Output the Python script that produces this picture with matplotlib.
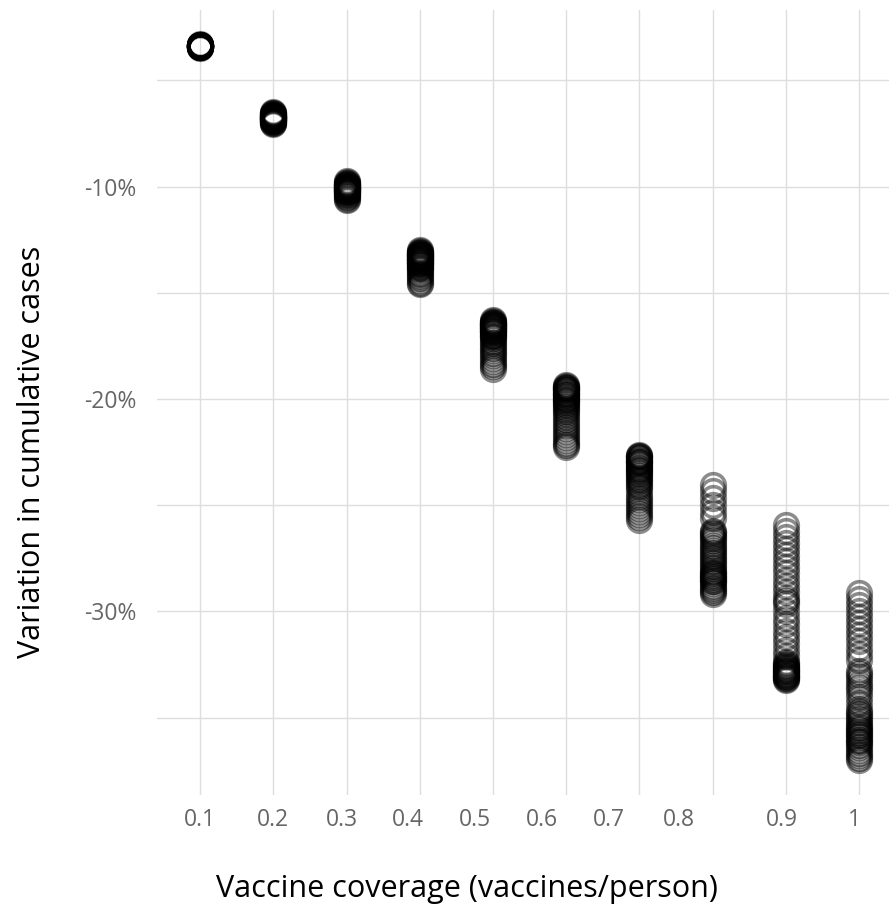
import matplotlib
matplotlib.use("Agg")
import matplotlib.pyplot as plt
import matplotlib.transforms as mtransforms
from matplotlib.ticker import FixedLocator, FuncFormatter

# Vaccine coverage levels (vaccines/person)
coverage_labels = ["0.1", "0.2", "0.3", "0.4", "0.5", "0.6", "0.7", "0.8", "0.9", "1"]

# Simulated variation in cumulative cases (%) for each coverage level
var_01 = [-3.31, -3.33, -3.34, -3.35, -3.36, -3.36, -3.37, -3.38, -3.38, -3.39,
          -3.40, -3.40, -3.41, -3.42, -3.43, -3.44, -3.45, -3.46, -3.38, -3.37,
          -3.35, -3.39, -3.41, -3.36, -3.42, -3.40, -3.34, -3.43, -3.39, -3.38]
var_02 = [-6.50, -6.53, -6.56, -6.60, -6.62, -6.65, -6.68, -6.70, -6.72, -6.74,
          -6.76, -6.78, -6.80, -6.82, -6.84, -6.86, -6.88, -6.90, -6.93, -6.96,
          -6.99, -7.02, -7.05, -6.71, -6.79, -6.66, -6.83, -6.91, -6.58, -6.75]
var_03 = [-9.75, -9.79, -9.84, -9.88, -9.92, -9.95, -9.98, -10.01, -10.04, -10.07,
          -10.10, -10.13, -10.16, -10.19, -10.22, -10.25, -10.28, -10.31, -10.35, -10.39,
          -10.44, -10.50, -10.57, -10.63, -10.02, -10.11, -9.90, -10.20, -10.08, -9.96]
var_04 = [-13.01, -13.05, -13.09, -13.12, -13.15, -13.18, -13.21, -13.24, -13.27, -13.30,
          -13.33, -13.36, -13.39, -13.42, -13.45, -13.48, -13.51, -13.55, -13.58, -13.62,
          -13.66, -13.70, -13.74, -13.78, -13.83, -13.88, -13.25, -13.40, -13.19, -13.60,
          -13.95, -14.05, -14.14, -14.22, -14.31, -14.42, -14.52, -14.60]
var_05 = [-16.29, -16.33, -16.37, -16.41, -16.45, -16.48, -16.52, -16.56, -16.60, -16.63,
          -16.67, -16.71, -16.75, -16.79, -16.83, -16.87, -16.92, -16.97, -17.02, -17.08,
          -17.15, -16.50, -16.65, -16.40, -16.80,
          -17.25, -17.36, -17.48, -17.60, -17.71, -17.82, -17.95, -18.08, -18.20, -18.33,
          -18.46, -18.58]
var_06 = [-19.35, -19.40, -19.45, -19.50, -19.55, -19.60, -19.66, -19.71, -19.77, -19.83,
          -19.89, -19.95, -20.01, -20.08, -20.15, -20.22, -20.30, -20.38, -20.46, -20.55,
          -20.65, -19.58, -19.80, -20.05, -19.47,
          -20.80, -20.94, -21.08, -21.22, -21.37, -21.50, -21.64, -21.78, -21.92, -22.05,
          -22.16, -22.25]
var_07 = [-22.62, -22.67, -22.73, -22.79, -22.85, -22.91, -22.97, -23.03, -23.10, -23.17,
          -23.24, -23.31, -23.38, -23.46, -23.54, -23.62, -23.70, -23.79, -23.88, -23.98,
          -24.08, -24.20, -22.70, -22.95, -23.35,
          -24.40, -24.55, -24.70, -24.85, -25.00, -25.15, -25.29, -25.42, -25.55, -25.68]
var_08 = [-24.05, -24.35, -24.68, -24.98, -25.30, -25.62,
          -26.20, -26.28, -26.36, -26.45, -26.55, -26.66, -26.78, -26.90, -27.02, -27.14,
          -27.26, -27.38, -27.50, -27.62, -27.74, -27.86, -27.97, -28.08, -28.18, -28.28,
          -28.38, -28.48, -28.58, -28.68, -28.78, -28.88, -28.98, -29.08, -29.16, -28.40,
          -28.55, -28.20]
var_09 = [-25.93, -26.20, -26.48, -26.77, -27.05, -27.34, -27.62, -27.90, -28.20, -28.50,
          -28.80, -29.10,
          -29.38, -29.50, -29.64,
          -30.00, -30.30, -30.60, -30.90, -31.20, -31.50, -31.80, -32.10,
          -32.40, -32.45, -32.50, -32.55, -32.60, -32.65, -32.70, -32.74, -32.78, -32.82,
          -32.86, -32.90, -32.94, -32.98, -33.02, -33.06, -33.10, -33.14, -33.18, -33.21]
var_10 = [-29.13, -29.40, -29.68, -29.97, -30.25, -30.54, -30.83, -31.12, -31.40, -31.70,
          -32.00, -32.30,
          -32.80, -32.95, -33.10, -33.28, -33.45, -33.62, -33.80, -34.05, -34.30,
          -34.60, -34.72, -34.84, -34.96, -35.08, -35.20, -35.32, -35.44, -35.56, -35.68,
          -35.80, -35.92, -36.04, -36.16, -36.28, -36.40, -36.52, -36.64, -36.76, -36.88,
          -36.97, -35.50, -35.75, -36.10]

series = [var_01, var_02, var_03, var_04, var_05, var_06, var_07, var_08, var_09, var_10]

# Horizontal nudge (px) applied to each x tick label
label_nudge_px = [0, 0, -5, -12, -18, -24, -31, -34, -4, -5]

fig = plt.figure(figsize=(8.91, 9.06), dpi=100)
ax = fig.add_axes([157 / 891, 1 - 795 / 906, 732 / 891, 785 / 906])

for i, vals in enumerate(series):
    ax.plot([i] * len(vals), vals, linestyle="none", marker="o",
            markersize=17.0, markerfacecolor="none", markeredgecolor="black",
            markeredgewidth=2.6, alpha=0.45, zorder=3)

ax.set_xlim(-0.59, 9.41)
ax.set_ylim(-38.64, -1.69)

grid_color = "#dedede"
ax.set_xticks(range(len(coverage_labels)))
ax.set_xticklabels(coverage_labels)
ax.yaxis.set_major_locator(FixedLocator([-30, -20, -10]))
ax.yaxis.set_minor_locator(FixedLocator([-35, -25, -15, -5]))
ax.yaxis.set_major_formatter(FuncFormatter(lambda v, p: f"{v:.0f}%"))
ax.grid(True, which="both", color=grid_color, linewidth=1.0, zorder=0)
ax.set_axisbelow(True)
for s in ax.spines.values():
    s.set_visible(False)

ax.tick_params(axis="x", which="both", length=0, pad=9,
               labelsize=16.5, labelcolor="#666666")
ax.tick_params(axis="y", which="both", length=0, pad=14.5,
               labelsize=16.5, labelcolor="#666666")

for lbl, dx in zip(ax.get_xticklabels(), label_nudge_px):
    lbl.set_transform(lbl.get_transform() +
                      mtransforms.ScaledTranslation(dx / 100, 0, fig.dpi_scale_trans))

for lbl in ax.get_xticklabels() + ax.get_yticklabels():
    lbl.set_fontfamily("Open Sans")

ax.set_xlabel("Vaccine coverage (vaccines/person)", fontsize=22,
              fontfamily="Open Sans", color="black")
ax.xaxis.set_label_coords(0.423, -0.101)
ax.set_ylabel("Variation in cumulative cases", fontsize=22,
              fontfamily="Open Sans", color="black")
ax.yaxis.set_label_coords(-0.150, 0.437)

fig.savefig("out.png", dpi=100, facecolor="white")
